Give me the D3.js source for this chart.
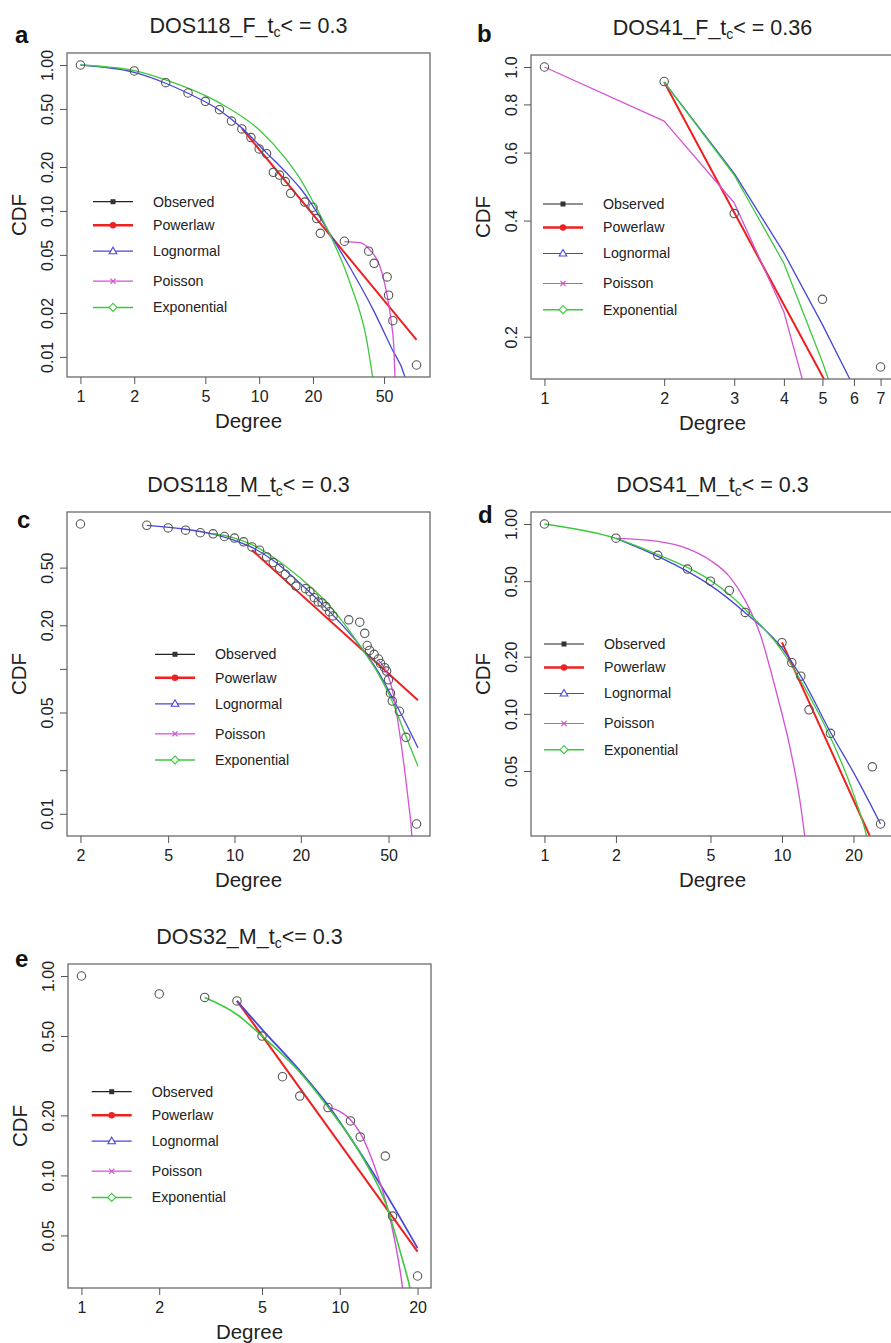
<!DOCTYPE html>
<html>
<head>
<meta charset="utf-8">
<title>Degree CDF fits</title>
<script src="https://cdnjs.cloudflare.com/ajax/libs/d3/7.8.5/d3.min.js"></script>
<style>
  body { margin: 0; background: #fff; }
  svg { display: block; font-family: "Liberation Sans", Arial, Helvetica, sans-serif; }
</style>
</head>
<body>
<div id="chart"></div>
<script>
// ---------- values ----------
// panel a : DOS118_F
var degA = [1,2,3,4,5,6,7,8,9,10,11,12,13,14,15,18,20,21,22,30,41,44,52,53,56,76];
var cdfA = [1.0,0.91,0.757,0.643,0.564,0.494,0.413,0.365,0.318,0.266,0.247,0.184,0.176,0.159,0.132,0.115,0.106,0.0886,0.0703,0.062,0.053,0.0438,0.0353,0.0265,0.0177,0.0088];
var powA_x = [8,76],  powA_y = [0.368,0.0131];
var lnA_x = [1,2,3,4,6,8,11,15,17,20,24.5,32,43.5,55,65.4,67];
var lnA_y = [1.0,0.89,0.75,0.64,0.49,0.37,0.25,0.17,0.143,0.108,0.072,0.0416,0.021,0.0115,0.0073,0.0065];
var psA_x = [30,36.7,41.7,47.5,51.7,55,56.8,57.5,58];
var psA_y = [0.0617,0.0607,0.054,0.0416,0.0273,0.017,0.0112,0.0073,0.005];
var expA_x = [1,2,3,6,10,14,17,20,24.5,32,40,43.2,45];
var expA_y = [1.0,0.914,0.79,0.55,0.36,0.23,0.165,0.116,0.072,0.033,0.013,0.0073,0.0055];

// panel b : DOS41_F
var degB = [1,2,3,5,7];
var cdfB = [1.0,0.917,0.417,0.25,0.167];
var powB_x = [2,3,4,5,6], powB_y = [0.914,0.42,0.242,0.158,0.112];
var lnB_x = [2,3,4,5,6],  lnB_y = [0.914,0.53,0.33,0.215,0.148];
var psB_x = [1,2,3,4,5],  psB_y = [1.0,0.724,0.445,0.232,0.1];
var expB_x = [2,3,4,5,6], expB_y = [0.914,0.525,0.31,0.172,0.1];

// panel c : DOS118_M
var degC = [2,4,5,6,7,8,9,10,11,12,13,14,15,16,17,18,19,21,22,23,24,25,26,27,28,33,37,39,40,41,43,45,46,48,49,50,51,52,56,60,67];
var cdfC = [1.0,0.98,0.94,0.907,0.87,0.855,0.82,0.80,0.753,0.695,0.659,0.593,0.542,0.496,0.45,0.409,0.373,0.358,0.341,0.31,0.29,0.285,0.269,0.248,0.232,0.218,0.21,0.176,0.145,0.134,0.126,0.117,0.109,0.102,0.0966,0.084,0.068,0.06,0.051,0.0337,0.0085];
var powC_x = [12,68], powC_y = [0.66,0.0608];
var lnC_x = [4,6,8,10,12,15,20,25,30,37,45,51,60,68];
var lnC_y = [0.98,0.92,0.85,0.77,0.69,0.56,0.385,0.28,0.21,0.145,0.095,0.067,0.042,0.0285];
var psC_x = [45,48,50,52,56,60,62,63.5,64.5];
var psC_y = [0.115,0.101,0.088,0.072,0.037,0.0168,0.011,0.0078,0.005];
var expC_x = [8,10,12,15,20,25,30,37.6,45,51.4,60.2,68];
var expC_y = [0.86,0.80,0.72,0.59,0.42,0.31,0.225,0.14,0.092,0.062,0.0337,0.0213];

// panel d : DOS41_M
var degD = [1,2,3,4,5,6,7,10,11,12,13,16,24,26];
var cdfD = [1.0,0.842,0.684,0.579,0.5,0.447,0.342,0.237,0.186,0.158,0.105,0.079,0.0526,0.0263];
var powD_x = [10,23.4], powD_y = [0.238,0.0228];
var lnD_x = [2,3,4,5,7,10,12,16,20.6,26];
var lnD_y = [0.84,0.676,0.563,0.475,0.341,0.222,0.158,0.08,0.046,0.0263];
var psD_x = [2,3,4,5,6,7,8.08,9.5,10.8,11.9,12.4,12.8];
var psD_y = [0.84,0.81,0.742,0.643,0.53,0.396,0.264,0.128,0.0667,0.0349,0.024,0.018];
var expD_x = [1,2,3,4,5,6,7,10,13,16,20,22.7,23.5];
var expD_y = [1.0,0.84,0.69,0.59,0.505,0.425,0.355,0.215,0.125,0.0753,0.0379,0.0228,0.019];

// panel e : DOS32_M
var degE = [1,2,3,4,5,6,7,9,11,12,15,16,20];
var cdfE = [1.0,0.8125,0.781,0.75,0.5,0.3125,0.25,0.219,0.1875,0.156,0.125,0.0625,0.0313];
var powE_x = [4,20], powE_y = [0.75,0.0415];
var lnE_x = [4,5,7,9,12,15,20];
var lnE_y = [0.75,0.54,0.335,0.225,0.13,0.082,0.0432];
var psE_x = [9,11,12,13.9,15.7,17.5,18];
var psE_y = [0.22,0.19,0.163,0.103,0.06,0.0272,0.02];
var expE_x = [3,4,5,6.85,9,12.4,15.2,17.2,18.7,19.2];
var expE_y = [0.78,0.641,0.5,0.34,0.22,0.12,0.07,0.0407,0.0272,0.023];

// tick values and labels
var xTicksA = [1,2,5,10,20,50];
var xTicksB = [1,2,3,4,5,6,7];
var xTicksC = [2,5,10,20,50];
var xTicksD = [1,2,5,10,20];
var xTicksE = [1,2,5,10,20];
var yTicksA = [0.01,0.02,0.05,0.1,0.2,0.5,1], yLabA = ["0.01","0.02","0.05","0.10","0.20","0.50","1.00"];
var yTicksB = [0.2,0.4,0.6,0.8,1.0],          yLabB = ["0.2","0.4","0.6","0.8","1.0"];
var yTicksC = [0.01,0.02,0.05,0.1,0.2,0.5],   yLabC = ["0.01","","0.05","","0.20","0.50"];
var yTicksD = [0.05,0.1,0.2,0.5,1],           yLabD = ["0.05","0.10","0.20","0.50","1.00"];
var yTicksE = [0.05,0.1,0.2,0.5,1],           yLabE = ["0.05","0.10","0.20","0.50","1.00"];

var legendNames = ["Observed","Powerlaw","Lognormal","Poisson","Exponential"];

// ---------- layout ----------
var W = 363, H = 324;
var fitColors = ["#ee2020","#4646dc","#d452d4","#3dc93d"];   // powerlaw, lognormal, poisson, exponential
var fitWidths = [2, 1.3, 1.3, 1.3];
var legendGap = [0, 23.5, 49.5, 79.5, 105.7];

var panels = [
  {id:"a", left:67,  top:53,  letter:[15,43],  title:["DOS118_F_t","c","< = 0.3"],  leg:[93,201.7],
   deg:degA, cdf:cdfA, fits:[[powA_x,powA_y],[lnA_x,lnA_y],[psA_x,psA_y],[expA_x,expA_y]],
   xt:xTicksA, yt:yTicksA, yl:yLabA, curve:d3.curveMonotoneX, lw:[2,1.3,1.3,1.3]},
  {id:"b", left:531, top:55,  letter:[477,42], title:["DOS41_F_t","c","< = 0.36"],  leg:[543,204],
   deg:degB, cdf:cdfB, fits:[[powB_x,powB_y],[lnB_x,lnB_y],[psB_x,psB_y],[expB_x,expB_y]],
   xt:xTicksB, yt:yTicksB, yl:yLabB, curve:d3.curveLinear, lw:[2,1.3,1.3,1.3]},
  {id:"c", left:67,  top:512, letter:[17,528], title:["DOS118_M_t","c","< = 0.3"],  leg:[155,654.3],
   deg:degC, cdf:cdfC, fits:[[powC_x,powC_y],[lnC_x,lnC_y],[psC_x,psC_y],[expC_x,expC_y]],
   xt:xTicksC, yt:yTicksC, yl:yLabC, curve:d3.curveMonotoneX, lw:[2,1.3,1.3,1.3]},
  {id:"d", left:531, top:512, letter:[478,523], title:["DOS41_M_t","c","< = 0.3"],  leg:[544,644],
   deg:degD, cdf:cdfD, fits:[[powD_x,powD_y],[lnD_x,lnD_y],[psD_x,psD_y],[expD_x,expD_y]],
   xt:xTicksD, yt:yTicksD, yl:yLabD, curve:d3.curveMonotoneX, lw:[2,1.3,1.3,1.3]},
  {id:"e", left:68,  top:964, letter:[15,967], title:["DOS32_M_t","c","<= 0.3"],   leg:[91.7,1091.7],
   deg:degE, cdf:cdfE, fits:[[powE_x,powE_y],[lnE_x,lnE_y],[psE_x,psE_y],[expE_x,expE_y]],
   xt:xTicksE, yt:yTicksE, yl:yLabE, curve:d3.curveMonotoneX, lw:[2,1.8,1.4,1.6]}
];

var svg = d3.select("#chart").append("svg")
  .attr("width", 891).attr("height", 1343);

// R-style log domain: data range widened by 4% on each side
function logDomain(ext) {
  var a = Math.log10(ext[0]), b = Math.log10(ext[1]), p = (b - a) * 0.04;
  return [Math.pow(10, a - p), Math.pow(10, b + p)];
}

panels.forEach(function(p) {
  var g = svg.append("g");
  var x = d3.scaleLog().domain(logDomain(d3.extent(p.deg))).range([p.left, p.left + W]);
  var y = d3.scaleLog().domain(logDomain(d3.extent(p.cdf))).range([p.top + H, p.top]);

  g.append("clipPath").attr("id", "clip-" + p.id)
    .append("rect").attr("x", p.left).attr("y", p.top).attr("width", W).attr("height", H);

  // fitted curves, drawn in legend order
  var plot = g.append("g").attr("clip-path", "url(#clip-" + p.id + ")");
  p.fits.forEach(function(f, i) {
    var pts = f[0].map(function(v, k) { return [v, f[1][k]]; });
    var line = d3.line().x(function(d) { return x(d[0]); }).y(function(d) { return y(d[1]); }).curve(p.curve);
    plot.append("path").attr("d", line(pts))
      .attr("fill", "none").attr("stroke", fitColors[i]).attr("stroke-width", p.lw[i])
      .attr("stroke-linejoin", "round");
  });

  // observed points
  plot.selectAll("circle.obs").data(p.deg).enter().append("circle")
    .attr("class", "obs")
    .attr("cx", function(d) { return x(d); })
    .attr("cy", function(d, i) { return y(p.cdf[i]); })
    .attr("r", 4.2).attr("fill", "none").attr("stroke", "#555").attr("stroke-width", 1.1);

  // box
  g.append("rect").attr("x", p.left).attr("y", p.top).attr("width", W).attr("height", H)
    .attr("fill", "none").attr("stroke", "#6a6a6a").attr("stroke-width", 1.3);

  // x axis
  var xa = g.append("g").attr("transform", "translate(0," + (p.top + H) + ")")
    .call(d3.axisBottom(x).tickValues(p.xt).tickFormat(d3.format("d")).tickSize(7));
  xa.select(".domain").remove();
  xa.selectAll("line").attr("stroke", "#555");
  xa.selectAll("text").attr("y", 25).attr("dy", null)
    .attr("font-size", 16).attr("fill", "#222").attr("font-family", null);

  // y axis, labels turned like R's default
  var ya = g.append("g").attr("transform", "translate(" + p.left + ",0)")
    .call(d3.axisLeft(y).tickValues(p.yt).tickFormat(function(d, i) { return p.yl[i]; }).tickSize(7));
  ya.select(".domain").remove();
  ya.selectAll("line").attr("stroke", "#555");
  ya.selectAll("text").attr("x", null).attr("dy", "0.35em")
    .attr("transform", "translate(-20,0) rotate(-90)")
    .attr("text-anchor", "middle").attr("font-size", 16).attr("fill", "#222").attr("font-family", null);

  // axis titles
  g.append("text").attr("x", p.left + W / 2).attr("y", p.top + H + 51)
    .attr("text-anchor", "middle").attr("font-size", 20.5).attr("fill", "#222").text("Degree");
  g.append("text")
    .attr("transform", "translate(" + (p.left - 48) + "," + (p.top + H / 2) + ") rotate(-90)")
    .attr("dy", "0.35em").attr("text-anchor", "middle").attr("font-size", 20.5).attr("fill", "#222").text("CDF");

  // main title with subscript
  var t = g.append("text").attr("x", p.left + W / 2).attr("y", p.top - 20)
    .attr("text-anchor", "middle").attr("font-size", 21.5).attr("fill", "#222");
  t.append("tspan").text(p.title[0]);
  t.append("tspan").attr("font-size", 14).attr("dy", 4).text(p.title[1]);
  t.append("tspan").attr("dy", -4).text(p.title[2]);

  // panel letter
  g.append("text").attr("x", p.letter[0]).attr("y", p.letter[1])
    .attr("font-size", 24).attr("font-weight", "bold").attr("fill", "#111").text(p.id);

  // legend
  var lg = g.append("g");
  legendNames.forEach(function(name, i) {
    var lx = p.leg[0], ly = p.leg[1] + legendGap[i];
    var col = i === 0 ? "#222" : fitColors[i - 1];
    lg.append("line").attr("x1", lx).attr("x2", lx + 40).attr("y1", ly).attr("y2", ly)
      .attr("stroke", col).attr("stroke-width", i === 1 ? 2.5 : (i === 4 ? 1.5 : 1.2));
    var cx = lx + 20;
    if (i === 0) {
      lg.append("rect").attr("x", cx - 2.5).attr("y", ly - 2.5).attr("width", 5).attr("height", 5).attr("fill", "#333");
    } else if (i === 1) {
      lg.append("circle").attr("cx", cx).attr("cy", ly).attr("r", 3.2).attr("fill", col);
    } else if (i === 2) {
      lg.append("path").attr("d", "M" + cx + "," + (ly - 4) + "L" + (cx + 3.8) + "," + (ly + 2.5) + "L" + (cx - 3.8) + "," + (ly + 2.5) + "Z")
        .attr("fill", "#fff").attr("stroke", col).attr("stroke-width", 1.1);
    } else if (i === 3) {
      lg.append("path").attr("d", "M" + (cx - 2.6) + "," + (ly - 2.6) + "L" + (cx + 2.6) + "," + (ly + 2.6) +
        "M" + (cx - 2.6) + "," + (ly + 2.6) + "L" + (cx + 2.6) + "," + (ly - 2.6))
        .attr("stroke", col).attr("stroke-width", 1.2);
    } else {
      lg.append("path").attr("d", "M" + cx + "," + (ly - 4) + "L" + (cx + 4) + "," + ly + "L" + cx + "," + (ly + 4) + "L" + (cx - 4) + "," + ly + "Z")
        .attr("fill", "#fff").attr("stroke", col).attr("stroke-width", 1.1);
    }
    lg.append("text").attr("x", lx + 60).attr("y", ly).attr("dy", "0.35em")
      .attr("font-size", 14.2).attr("fill", "#222").text(name);
  });
});
</script>
</body>
</html>
